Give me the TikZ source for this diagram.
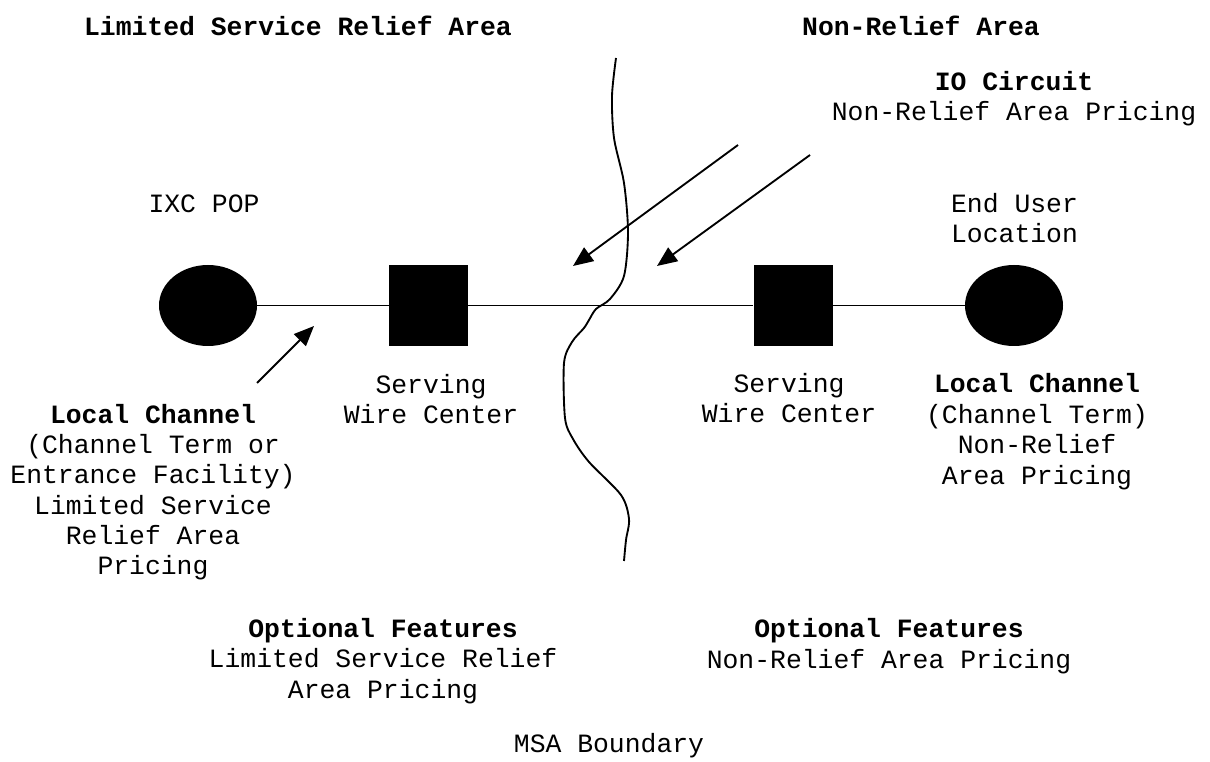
\documentclass[tikz,border=0pt]{standalone}
\usepackage{fontspec}
\setmonofont{Liberation Mono}
\usetikzlibrary{arrows.meta,shapes.geometric}
\begin{document}
\begin{tikzpicture}[x=0.75pt,y=-0.75pt,
  lbl/.style={font=\ttfamily\fontsize{19.8}{22.8}\selectfont, align=center, anchor=base, inner sep=0pt},
  dot/.style={ellipse, fill=black, draw=none, minimum width=73.5pt, minimum height=60.75pt, inner sep=0pt},
  sq/.style={rectangle, fill=black, draw=none, minimum width=59.25pt, minimum height=60.75pt, inner sep=0pt},
  wire/.style={line width=1.4pt},
  arr/.style={line width=1.4pt, -{Triangle[length=15pt,width=12.5pt]}},
  bnd/.style={line width=1.4pt, line join=round}]
\useasboundingbox (0,0) rectangle (1210,762);

% titles
\node[lbl] (t1) at (298,36) {\textbf{Limited Service Relief Area}};
\node[lbl] (t2) at (921,36) {\textbf{Non-Relief Area}};

% boundary curve
\draw[bnd] plot[smooth, tension=0.5] coordinates {(616,58) (612,96) (614,138) (624,183) (628,232) (624,276) (610,299) (596,309) (589,320) (584,328) (572,342) (564,363) (565,418) (573,439) (589,462) (621,495) (629,519) (626,540) (624,561)};

% nodes
\node[dot] (pop) at (208,305.5) {};
\node[sq] (sw1) at (428.5,305.5) {};
\node[sq] (sw2) at (793,305.5) {};
\node[dot] (eu) at (1014,305.5) {};
\draw[wire] (pop) -- (sw1) -- (sw2) -- (eu);

% IO circuit (anchor = baseline of last line)
\node[lbl] (io) at (1014,121) {\textbf{IO Circuit}\\Non-Relief Area Pricing};
\coordinate (a1s) at (738,145);
\coordinate (a1e) at (573,266);
\coordinate (a2s) at (810,155);
\coordinate (a2e) at (657,266);
\draw[arr] (a1s) -- (a1e);
\draw[arr] (a2s) -- (a2e);

% labels
\node[lbl] (popl) at (204,213) {IXC POP};
\node[lbl] (eul) at (1014.5,243) {End User\\Location};
\node[lbl] (sw1l) at (431,424) {Serving\\Wire Center};
\node[lbl] (sw2l) at (789,423) {Serving\\Wire Center};
\node[lbl] (lcr) at (1037,484) {\textbf{Local Channel}\\(Channel Term)\\Non-Relief\\Area Pricing};
\node[lbl] (lcl) at (153,575) {\textbf{Local Channel}\\(Channel Term or\\Entrance Facility)\\Limited Service\\Relief Area\\Pricing};
\coordinate (a3s) at (257,383);
\coordinate (a3e) at (314,326);
\draw[arr] (a3s) -- (a3e);

% bottom
\node[lbl] (of1) at (383,698) {\textbf{Optional Features}\\Limited Service Relief\\Area Pricing};
\node[lbl] (of2) at (889,668) {\textbf{Optional Features}\\Non-Relief Area Pricing};
\node[lbl] (msa) at (609,752) {MSA Boundary};
\end{tikzpicture}
\end{document}
